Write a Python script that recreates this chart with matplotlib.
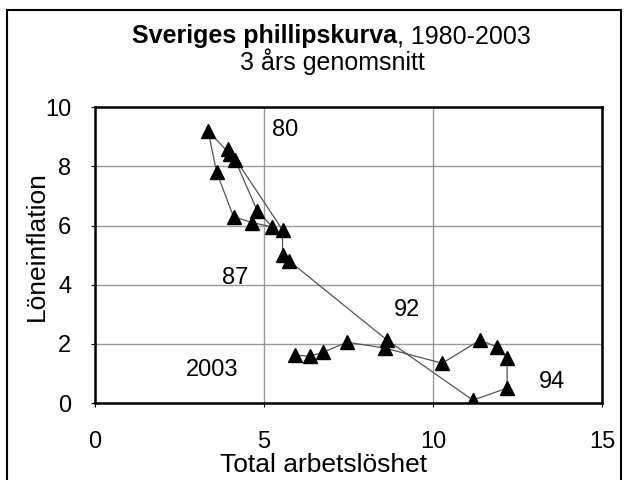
import matplotlib.pyplot as plt
from matplotlib.patches import Rectangle

plt.rcParams["font.family"] = ["Liberation Sans", "DejaVu Sans"]

# 3-year averages, 1980-2003
years = list(range(1980, 2004))
unemployment = [4.0, 3.35, 3.6, 4.1, 4.65, 5.25, 4.8, 4.15, 3.95, 5.55, 5.55, 5.75,
                8.64, 11.18, 12.19, 12.19, 11.89, 11.39, 10.27, 8.58, 7.46, 6.75, 6.36, 5.92]
wage_inflation = [8.4, 9.2, 7.8, 6.3, 6.1, 5.95, 6.5, 8.2, 8.6, 5.85, 5.0, 4.8,
                  2.13, 0.1, 0.51, 1.52, 1.9, 2.13, 1.35, 1.86, 2.06, 1.72, 1.59, 1.62]

year_labels = ["80", "87", "92", "2003", "94"]
label_x = [5.24, 3.76, 8.85, 2.69, 13.14]
label_y = [9.22, 4.22, 3.14, 1.11, 0.71]

fig = plt.figure(figsize=(6.24, 4.8), dpi=100)
fig.patches.append(Rectangle((0.012, -0.01), 0.983, 0.99, transform=fig.transFigure,
                             fill=False, edgecolor="black", linewidth=1.5))
ax = fig.add_axes([0.152, 0.16, 0.813, 0.617])

ax.plot(unemployment, wage_inflation, color="#555555", linewidth=0.9, zorder=2)
ax.plot(unemployment, wage_inflation, linestyle="none", marker="^", color="black",
        markersize=10, zorder=3)

for txt, x, y in zip(year_labels, label_x, label_y):
    ax.text(x, y, txt, fontsize=17, va="center", ha="left")

ax.set_xlim(0, 15)
ax.set_ylim(0, 10)
ax.set_xticks([0, 5, 10, 15])
ax.set_yticks([0, 2, 4, 6, 8, 10])
ax.grid(True, color="#999999", linewidth=1)
ax.set_axisbelow(True)
ax.tick_params(labelsize=17, length=3)
ax.tick_params(axis="x", pad=17)
ax.tick_params(axis="y", pad=14)
for s in ax.spines.values():
    s.set_linewidth(1.8)

fig.text(0.518, 0.016, "Total arbetslöshet", fontsize=19, ha="center", va="baseline")
fig.text(0.059, 0.4875, "Löneinflation", fontsize=19, rotation=90, ha="center", va="center")

fig.text(0.636, 0.91, "Sveriges phillipskurva", fontsize=18, fontweight="bold",
         ha="right", va="baseline")
fig.text(0.636, 0.91, ", 1980-2003", fontsize=18, ha="left", va="baseline")
fig.text(0.532, 0.854, "3 års genomsnitt", fontsize=18, ha="center", va="baseline")

fig.savefig("out.png", dpi=100)
